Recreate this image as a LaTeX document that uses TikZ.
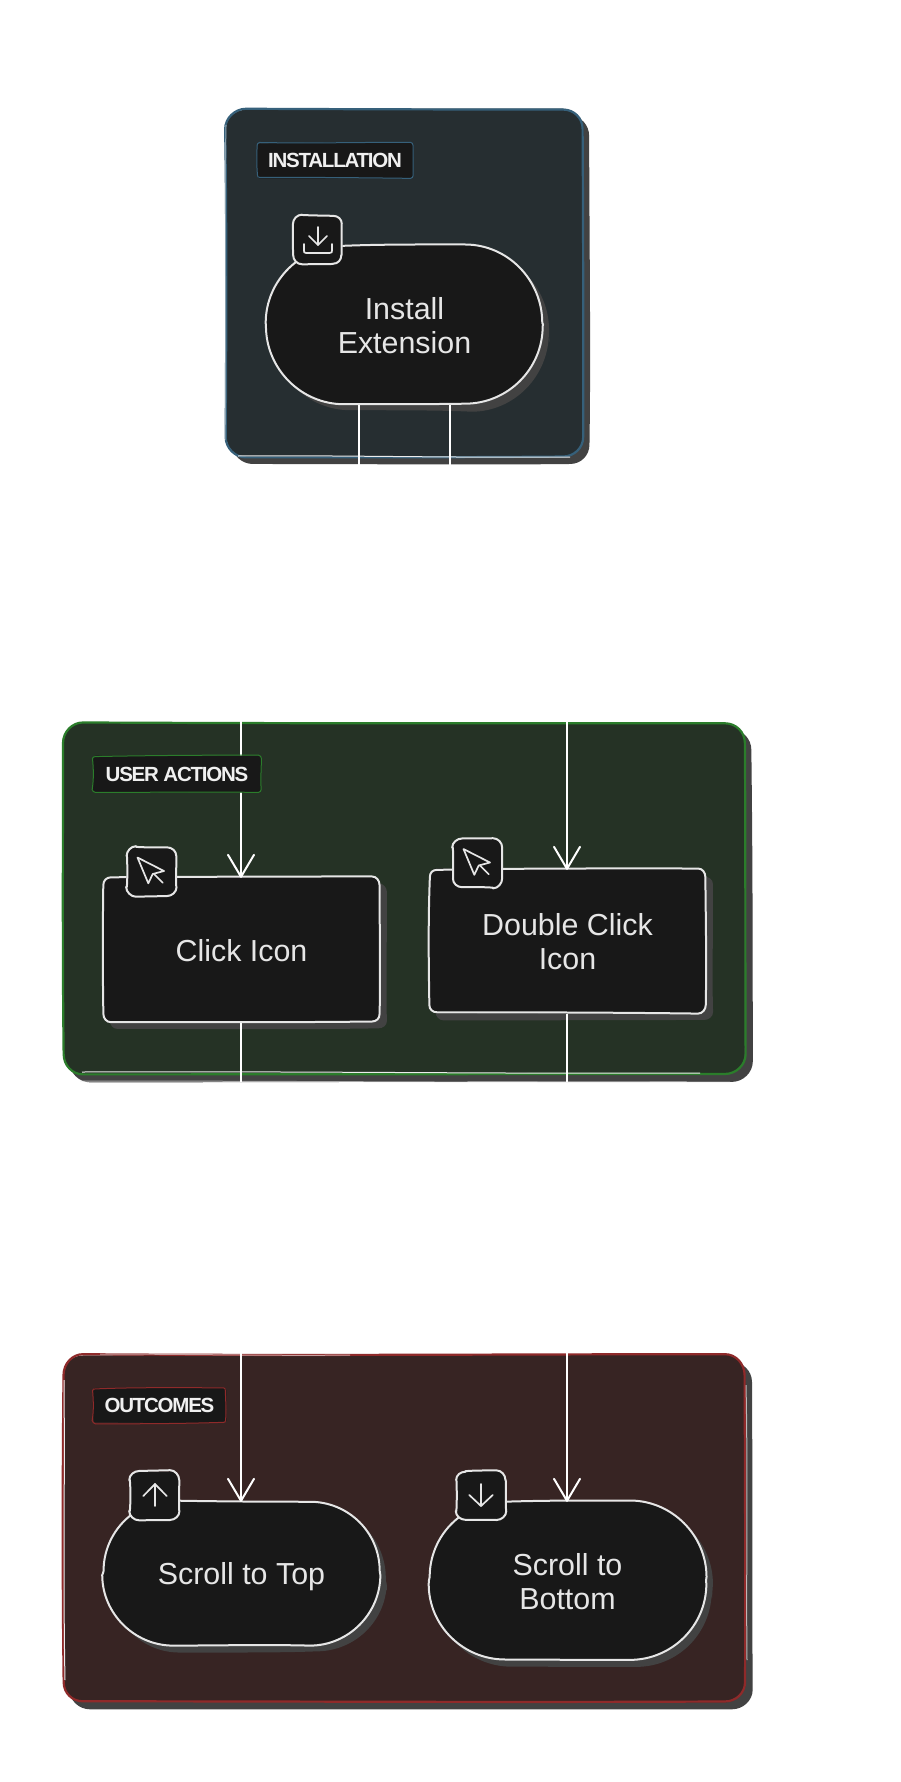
\documentclass[tikz,border=0pt]{standalone}
\usepackage{fontspec}
\setmainfont{Liberation Sans}
\newfontfamily\labelfont[LetterSpace=-6]{Liberation Sans Bold}
\usetikzlibrary{arrows.meta}
\definecolor{nodefill}{HTML}{181818}
\definecolor{inkline}{HTML}{E6E6E6}
\definecolor{shadowc}{HTML}{424242}
\definecolor{fillA}{HTML}{262E31}
\definecolor{lineA}{HTML}{36607A}
\definecolor{fillB}{HTML}{253225}
\definecolor{lineB}{HTML}{2B7D2B}
\definecolor{fillC}{HTML}{372423}
\definecolor{lineC}{HTML}{8F2A2A}
\tikzset{
  shapeline/.style={draw=inkline,line width=2pt,line join=round},
  panelline/.style={line width=2.2pt,line join=round},
  thinwhite/.style={draw=white!85!gray,line width=1pt},
  nodetext/.style={text=inkline,align=center,inner sep=0pt,yshift=-1pt,font=\fontsize{30.4}{34}\selectfont},
  tagtext/.style={text=white!94!black,inner sep=0pt,font=\labelfont\fontsize{20.5}{24}\selectfont},
  iconanchor/.style={inner sep=0pt,minimum size=49pt},
  edgeline/.style={draw=white,line width=2pt},
  arrowline/.style={draw=white,line width=2pt,-{Straight Barb[length=22pt,width=26pt,line width=2pt,round]}},
  iconstroke/.style={draw=inkline,line width=1.7pt,line cap=round,line join=round}
}
% slightly bowed rounded rectangle: style, x1, y1, x2, y2, r
\newcommand{\roughbox}[6]{%
  \pgfmathsetmacro{\ja}{0.9*rand}\pgfmathsetmacro{\jb}{0.9*rand}%
  \pgfmathsetmacro{\jc}{0.9*rand}\pgfmathsetmacro{\jd}{0.9*rand}%
  \pgfmathsetmacro{\je}{0.9*rand}\pgfmathsetmacro{\jf}{0.9*rand}%
  \pgfmathsetmacro{\jg}{0.9*rand}\pgfmathsetmacro{\jh}{0.9*rand}%
  \path[#1]
    (#2+\ja,#3+#6) .. controls (#2+\ja,#3+0.45*#6) and (#2+0.45*#6,#3+\jb) .. (#2+#6,#3+\jb)
    .. controls (#2+#6+0.33*#4-0.33*#2-0.66*#6,#3-\jb) and (#4-#6-0.33*#4+0.33*#2+0.66*#6,#3+\jc) .. (#4-#6,#3+\jc)
    .. controls (#4-0.45*#6,#3+\jc) and (#4+\jd,#3+0.45*#6) .. (#4+\jd,#3+#6)
    .. controls (#4+\je,#3+#6+0.33*#5-0.33*#3-0.66*#6) and (#4-\jd,#5-#6-0.33*#5+0.33*#3+0.66*#6) .. (#4+\je,#5-#6)
    .. controls (#4+\je,#5-0.45*#6) and (#4-0.45*#6,#5+\jf) .. (#4-#6,#5+\jf)
    .. controls (#4-#6-0.33*#4+0.33*#2+0.66*#6,#5-\jf) and (#2+#6+0.33*#4-0.33*#2-0.66*#6,#5+\jg) .. (#2+#6,#5+\jg)
    .. controls (#2+0.45*#6,#5+\jg) and (#2+\jh,#5-0.45*#6) .. (#2+\jh,#5-#6)
    .. controls (#2-\jh,#5-#6-0.33*#5+0.33*#3+0.66*#6) and (#2-\ja,#3+#6+0.33*#5-0.33*#3-0.66*#6) .. (#2+\ja,#3+#6)
    -- cycle;}
% panel: fill, line, x1,y1,x2,y2
\newcommand{\panelbox}[6]{%
  \roughbox{fill=shadowc}{#3+7}{#4+7}{#5+7}{#6+7.5}{20}%
  \roughbox{fill=#1}{#3}{#4}{#5}{#6}{20}%
  \roughbox{draw=#2,panelline}{#3}{#4}{#5}{#6}{20}}
% flow node: name, x1,y1,x2,y2,r,text
\newcommand{\flowbox}[7]{%
  \roughbox{fill=shadowc}{#2+6.5}{#3+7}{#4+6.5}{#5+7}{#6}%
  \roughbox{fill=nodefill}{#2}{#3}{#4}{#5}{#6}%
  \roughbox{shapeline}{#2}{#3}{#4}{#5}{#6}%
  \pgfmathsetmacro{\cwx}{#4-#2}\pgfmathsetmacro{\chy}{#5-#3}%
  \node[nodetext,minimum width=\cwx pt,minimum height=\chy pt] (#1) at ({(#2+#4)/2},{(#3+#5)/2}) {#7};}
% icon box: name, cx, cy, icon paths
\newcommand{\iconbox}[4]{%
  \roughbox{fill=nodefill}{#2-24.5}{#3-24.5}{#2+24.5}{#3+24.5}{9}%
  \roughbox{shapeline}{#2-24.5}{#3-24.5}{#2+24.5}{#3+24.5}{9}%
  \node[iconanchor] (#1) at (#2,#3) {};
  \begin{scope}[shift={(#2,#3)}]#4\end{scope}}
% tag: name, line colour, x1,y1,x2,y2, text
\newcommand{\tagbox}[7]{%
  \roughbox{fill=nodefill}{#3}{#4}{#5}{#6}{2.5}%
  \roughbox{draw=#2,line width=1pt}{#3}{#4}{#5}{#6}{2.5}%
  \node[tagtext] (#1) at ({(#3+#5)/2},{(#4+#6)/2}) {#7};}
\newcommand{\cursoricon}{%
  \draw[iconstroke] (-14,-14) -- (12.5,-0.5) -- (1.2,2.5) -- (-3.2,11.8) -- cycle;
  \draw[iconstroke] (2.5,2.5) -- (11.2,11.2);}
\begin{document}
\begin{tikzpicture}[x=1pt,y=-1pt]
\pgfmathsetseed{4217}
\useasboundingbox (0,0) rectangle (901,1782);
\fill[white] (0,0) rectangle (901,1782);

% ---- panels
\panelbox{fillA}{lineA}{226}{109}{583}{457}
\panelbox{fillB}{lineB}{63}{723}{745}{1074}
\panelbox{fillC}{lineC}{63}{1355}{745}{1702}

% thin light strokes of the sketchy outlines
\coordinate (ta1) at (238,456); \coordinate (ta2) at (570,457);
\draw[thinwhite] (ta1) .. controls (330,455) and (450,458) .. (ta2);
\coordinate (ta3) at (226,125); \coordinate (ta4) at (225,440);
\draw[thinwhite,draw opacity=.45] (ta3) .. controls (224,220) and (227,330) .. (ta4);
\coordinate (tb1) at (82,1072); \coordinate (tb2) at (700,1073);
\draw[thinwhite] (tb1) .. controls (300,1071) and (500,1074) .. (tb2);
\coordinate (tb3) at (80,1081); \coordinate (tb4) at (730,1082);
\draw[thinwhite,draw opacity=.6] (tb3) .. controls (300,1081) and (500,1083) .. (tb4);
\coordinate (tc1) at (64,1380); \coordinate (tc2) at (65,1680);
\draw[thinwhite] (tc1) .. controls (65,1480) and (63,1580) .. (tc2);
\coordinate (tc3) at (100,1354); \coordinate (tc4) at (350,1355);
\draw[thinwhite,draw opacity=.6] (tc3) .. controls (180,1354) and (280,1356) .. (tc4);
\coordinate (tc5) at (746,1385); \coordinate (tc6) at (747,1660);
\draw[thinwhite,draw opacity=.7] (tc5) .. controls (748,1480) and (746,1580) .. (tc6);

% ---- flow nodes
\flowbox{install}{266}{245}{543}{404}{78}{Install\\Extension}
\flowbox{click}{103}{877}{380}{1022}{8}{Click Icon}
\flowbox{dbl}{429}{869}{706}{1013}{8}{Double Click\\Icon}
\flowbox{top}{103}{1501}{380}{1645}{70}{Scroll to To\smash{p}}
\flowbox{bottom}{429}{1501}{706}{1660}{76}{Scroll to\\Bottom}

% ---- connector ends at the panel borders
\coordinate (instA) at (359,466);
\coordinate (instB) at (450,466);
\coordinate (clickIn) at (241,720);
\coordinate (dblIn) at (567,720);
\coordinate (clickOut) at (241,1082);
\coordinate (dblOut) at (567,1082);
\coordinate (topIn) at (241,1352);
\coordinate (bottomIn) at (567,1352);

% ---- connectors
\draw[edgeline] (install.south -| instA) -- (instA);
\draw[edgeline] (install.south -| instB) -- (instB);
\draw[arrowline] (clickIn) -- (clickIn |- click.north);
\draw[arrowline] (dblIn) -- (dblIn |- dbl.north);
\draw[edgeline] (clickOut |- click.south) -- (clickOut);
\draw[edgeline] (dblOut |- dbl.south) -- (dblOut);
\draw[arrowline] (topIn) -- (topIn |- top.north);
\draw[arrowline] (bottomIn) -- (bottomIn |- bottom.north);

% ---- panel tags
\tagbox{tagA}{lineA}{257}{143}{413}{178}{INSTALLATION}
\tagbox{tagB}{lineB}{93}{756}{261}{792}{USER ACTIONS}
\tagbox{tagC}{lineC}{93}{1388}{226}{1423}{OUTCOMES}

% ---- icons
\iconbox{icInstall}{317.5}{239.5}{%
  \draw[iconstroke] (0.5,-12.5) -- (0.5,5.5);
  \draw[iconstroke] (-8.5,-3.5) -- (0.5,5.5) -- (9.5,-3.5);
  \draw[iconstroke] (-13.5,4.5) -- (-13.5,11) .. controls (-13.5,13) .. (-11.5,13.5) -- (12,13.5) .. controls (14.5,13) .. (14.5,11) -- (14.5,4.5);}
\iconbox{icClick}{151.5}{871.5}{\cursoricon}
\iconbox{icDbl}{477.5}{863}{\cursoricon}
\iconbox{icTop}{154.5}{1495.5}{%
  \draw[iconstroke] (0.5,-11.5) -- (0.5,10.5);
  \draw[iconstroke] (-11.2,0.5) -- (0.5,-11.5) -- (12.2,0.5);}
\iconbox{icBottom}{481}{1495.5}{%
  \draw[iconstroke] (0,-11.5) -- (0,10.5);
  \draw[iconstroke] (-11.7,-0.5) -- (0,10.5) -- (11.7,-0.5);}
\end{tikzpicture}
\end{document}
